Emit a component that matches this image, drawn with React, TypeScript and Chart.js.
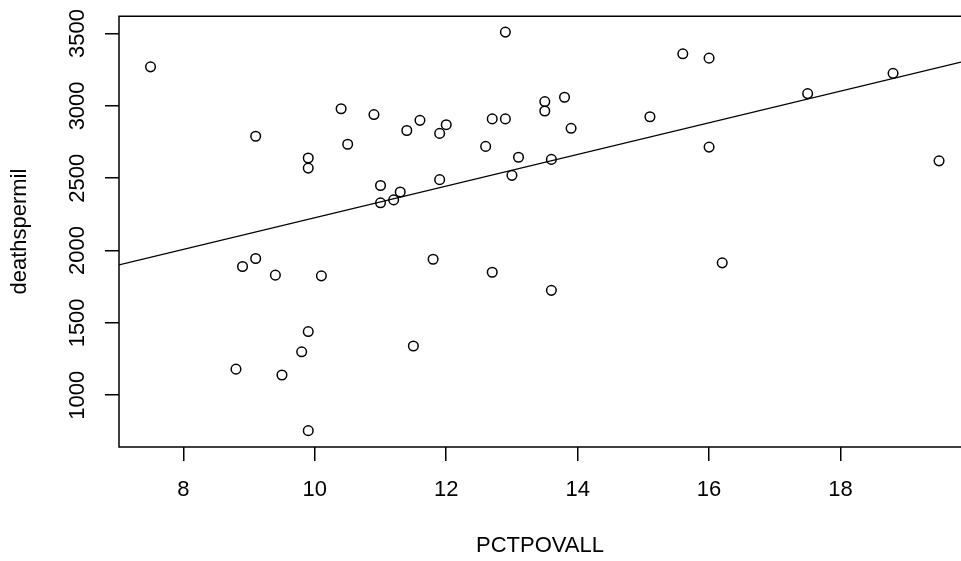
import React, { useEffect, useRef } from "react";
import { Chart, registerables } from "chart.js";

Chart.register(...registerables);

// ---- data ----
const pctpovall = [
  7.5, 8.8, 8.9, 9.1, 9.1, 9.4, 9.5, 9.8, 9.9, 9.9, 9.9, 9.9, 10.1, 10.4, 10.5, 10.9,
  11.0, 11.0, 11.2, 11.3, 11.4, 11.5, 11.6, 11.8, 11.9, 11.9, 12.0, 12.6, 12.7, 12.7,
  12.9, 12.9, 13.0, 13.1, 13.5, 13.5, 13.6, 13.6, 13.8, 13.9, 15.1, 15.6, 16.0, 16.0,
  16.2, 17.5, 18.8, 19.5,
];
const deathspermil = [
  3270, 1180, 1890, 2790, 1945, 1830, 1140, 1300, 2640, 2570, 1440, 755, 1825, 2980, 2735, 2940,
  2450, 2330, 2350, 2405, 2830, 1340, 2900, 1940, 2810, 2490, 2870, 2720, 2910, 1850,
  3510, 2910, 2520, 2645, 3030, 2965, 2630, 1725, 3060, 2845, 2925, 3360, 3330, 2715,
  1915, 3085, 3225, 2620,
];
const xTicks = [8, 10, 12, 14, 16, 18];
const yTicks = [1000, 1500, 2000, 2500, 3000, 3500];
const xLabel = "PCTPOVALL";
const yLabel = "deathspermil";
const fitIntercept = 1133;
const fitSlope = 109.4;
const xRange = [7.02, 19.834];
const yRange = [642, 3620];

const FONT = "'Liberation Sans', Arial, Helvetica, sans-serif";

export default function App() {
  const ref = useRef<HTMLCanvasElement | null>(null);

  useEffect(() => {
    if (!ref.current) return;
    const points = pctpovall.map((x, i) => ({ x, y: deathspermil[i] }));
    const fitPoints = [xRange[0], xRange[1]].map((x) => ({ x, y: fitIntercept + fitSlope * x }));

    const boxPlugin = {
      id: "rbox",
      afterDatasetsDraw(chart: any) {
        const { ctx, chartArea } = chart;
        const { left, top, right, bottom } = chartArea;
        ctx.save();
        ctx.strokeStyle = "#000";
        ctx.lineWidth = 1.5;
        ctx.beginPath();
        ctx.moveTo(right + 5, top);
        ctx.lineTo(left, top);
        ctx.lineTo(left, bottom);
        ctx.lineTo(right + 5, bottom);
        ctx.stroke();
        ctx.restore();
      },
    };

    const chart = new Chart(ref.current, {
      type: "scatter",
      data: {
        datasets: [
          {
            type: "scatter",
            data: points,
            pointRadius: 4.8,
            pointHoverRadius: 4.8,
            pointBorderWidth: 1.5,
            pointBorderColor: "#000",
            pointBackgroundColor: "rgba(0,0,0,0)",
          } as any,
          {
            type: "line",
            data: fitPoints,
            borderColor: "#000",
            borderWidth: 1.3,
            pointRadius: 0,
            fill: false,
            tension: 0,
          } as any,
        ],
      },
      options: {
        animation: false,
        responsive: false,
        devicePixelRatio: 1,
        events: [],
        layout: { autoPadding: false, padding: { top: 15, left: 0, right: 0, bottom: 0 } },
        plugins: { legend: { display: false }, tooltip: { enabled: false } },
        scales: {
          x: {
            type: "linear",
            position: "bottom",
            bounds: "data",
            min: xRange[0],
            max: xRange[1],
            afterBuildTicks: (s: any) => {
              s.ticks = xTicks.map((v) => ({ value: v }));
            },
            afterFit: (s: any) => {
              s.height = 114;
            },
            grid: {
              display: true,
              drawOnChartArea: false,
              drawTicks: true,
              tickLength: 14,
              color: "#000",
              lineWidth: 1.5,
            },
            border: { display: false },
            ticks: {
              color: "#000",
              font: { family: FONT, size: 22 },
              padding: 16,
              maxRotation: 0,
              minRotation: 0,
              autoSkip: false,
              callback: (v: any) => String(v),
            },
            title: {
              display: true,
              text: xLabel,
              color: "#000",
              font: { family: FONT, size: 22 },
              padding: { top: 0, bottom: 2 },
            },
          },
          y: {
            type: "linear",
            position: "left",
            bounds: "data",
            min: yRange[0],
            max: yRange[1],
            afterBuildTicks: (s: any) => {
              s.ticks = yTicks.map((v) => ({ value: v }));
            },
            afterFit: (s: any) => {
              s.width = 119;
            },
            grid: {
              display: true,
              drawOnChartArea: false,
              drawTicks: true,
              tickLength: 14,
              color: "#000",
              lineWidth: 1.5,
            },
            border: { display: false },
            ticks: {
              color: "#000",
              font: { family: FONT, size: 22 },
              padding: 3,
              minRotation: 90,
              maxRotation: 90,
              crossAlign: "center",
              autoSkip: false,
              callback: (v: any) => String(v),
            },
            title: {
              display: true,
              text: yLabel,
              color: "#000",
              font: { family: FONT, size: 22 },
              padding: { top: 7, bottom: 0 },
            },
          },
        },
      } as any,
      plugins: [boxPlugin],
    });
    return () => chart.destroy();
  }, []);

  return (
    <div style={{ position: "absolute", left: 0, top: 0, width: 961, height: 561, background: "#fff" }}>
      <canvas ref={ref} width={961} height={561} style={{ display: "block", width: 961, height: 561 }} />
    </div>
  );
}
